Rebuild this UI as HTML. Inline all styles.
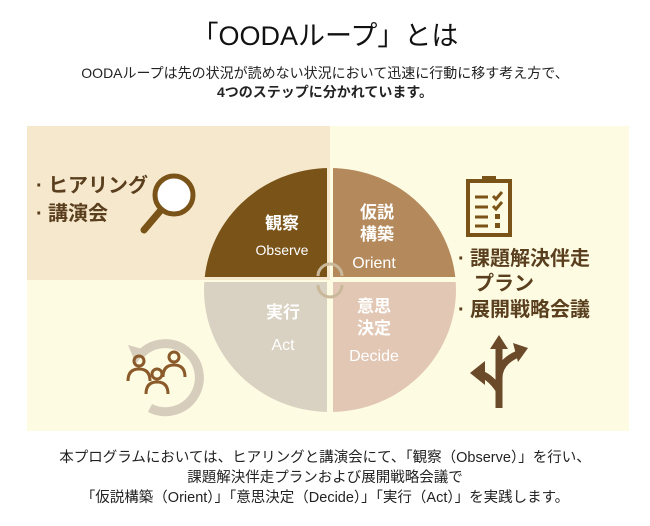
<!DOCTYPE html>
<html><head><meta charset="utf-8"><style>
html,body{margin:0;padding:0;background:#fff;}
svg{display:block;font-family:"Liberation Sans","Noto Sans CJK JP",sans-serif;}
</style></head><body>
<svg width="650" height="526" viewBox="0 0 650 526" xmlns="http://www.w3.org/2000/svg">
<rect width="650" height="526" fill="#fff"/>
<text x="325" y="45" text-anchor="middle" font-size="27" fill="#111">「OODAループ」とは</text>
<text x="325" y="78" text-anchor="middle" font-size="14" fill="#222">OODAループは先の状況が読めない状況において迅速に行動に移す考え方で、</text>
<text x="325" y="97" text-anchor="middle" font-size="14" font-weight="bold" fill="#222">4つのステップに分かれています。</text>
<rect x="27" y="126" width="602" height="305" fill="#fdfbe2"/>
<rect x="27" y="126" width="303" height="154" fill="#f6e8cc"/>
<defs><clipPath id="e"><ellipse cx="330" cy="290" rx="126" ry="122"/></clipPath></defs>
<g clip-path="url(#e)">
<rect x="200" y="165" width="127" height="112" fill="#7a5318"/>
<rect x="333" y="165" width="127" height="112" fill="#b48a5d"/>
<rect x="200" y="282" width="127" height="135" fill="#d9d1c1"/>
<rect x="333" y="282" width="127" height="135" fill="#e2c7b5"/>
</g>
<path d="M318 276 A12 12 0 0 1 342 276" fill="none" stroke="#c9b89a" stroke-width="3"/>
<path d="M318 285 A12 12 0 0 0 342 285" fill="none" stroke="#c9b89a" stroke-width="3"/>
<g fill="#fff" text-anchor="middle">
<text x="282" y="229" font-size="17" font-weight="bold">観察</text>
<text x="282" y="255" font-size="14">Observe</text>
<text x="377" y="218" font-size="17" font-weight="bold">仮説</text>
<text x="377" y="240" font-size="17" font-weight="bold">構築</text>
<text x="374" y="268" font-size="16">Orient</text>
<text x="283" y="318" font-size="17" font-weight="bold">実行</text>
<text x="283" y="350" font-size="16">Act</text>
<text x="374" y="312" font-size="17" font-weight="bold">意思</text>
<text x="374" y="334" font-size="17" font-weight="bold">決定</text>
<text x="374" y="361" font-size="16">Decide</text>
</g>
<g fill="#5a3f1e" font-size="20" font-weight="bold">
<text x="36" y="192">·</text><text x="48" y="192">ヒアリング</text>
<text x="36" y="220">·</text><text x="48" y="220">講演会</text>
<text x="458" y="265">·</text><text x="470" y="265">課題解決伴走</text>
<text x="474" y="290">プラン</text>
<text x="458" y="316">·</text><text x="470" y="316">展開戦略会議</text>
</g>
<circle cx="174" cy="195" r="19" fill="#fff" stroke="#7a5318" stroke-width="5"/>
<line x1="161" y1="210" x2="144" y2="230" stroke="#7a5318" stroke-width="7" stroke-linecap="round"/>
<rect x="468" y="181" width="42" height="54" fill="none" stroke="#7a5318" stroke-width="4"/>
<rect x="482" y="176" width="14" height="7" fill="#7a5318"/>
<g stroke="#7a5318" stroke-width="3"><line x1="475" y1="197" x2="488" y2="197"/><line x1="475" y1="207" x2="488" y2="207"/><line x1="475" y1="217" x2="488" y2="217"/><line x1="475" y1="226" x2="488" y2="226"/>
<polyline points="493,196 496,199 502,192" fill="none"/><polyline points="493,206 496,209 502,202" fill="none"/></g>
<rect x="495" y="214" width="5" height="5" fill="#7a5318"/><rect x="495" y="223" width="5" height="5" fill="#7a5318"/>
<g stroke="#6b4a2a" stroke-width="7" fill="none">
<path d="M499 408 V345"/><path d="M499 378 Q499 362 518 354"/><path d="M499 390 Q490 376 478 373"/>
</g>
<polygon points="490,349 499,335 508,349" fill="#6b4a2a"/>
<polygon points="513,343 528,348 518,362" fill="#6b4a2a"/>
<polygon points="485,361 470,373 485,385" fill="#6b4a2a"/>
<path d="M140 355 A34 34 0 1 1 150 408" fill="none" stroke="#d6cdbd" stroke-width="9"/>
<polygon points="128,345 146,350 136,364" fill="#d6cdbd"/>
<g fill="none" stroke="#8a5a2a" stroke-width="3">
<circle cx="139" cy="361" r="5"/><path d="M128 381 Q128 369 139 369 Q150 369 150 381"/>
<circle cx="174" cy="357" r="5"/><path d="M163 377 Q163 365 174 365 Q185 365 185 377"/>
<circle cx="157" cy="374" r="5"/><path d="M146 394 Q146 382 157 382 Q168 382 168 394"/>
</g>
<g fill="#222" font-size="14.5" text-anchor="middle">
<text x="325" y="462">本プログラムにおいては、ヒアリングと講演会にて、「観察（Observe）」を行い、</text>
<text x="325" y="482">課題解決伴走プランおよび展開戦略会議で</text>
<text x="325" y="502">「仮説構築（Orient）」「意思決定（Decide）」「実行（Act）」を実践します。</text>
</g>
</svg>
</body></html>
